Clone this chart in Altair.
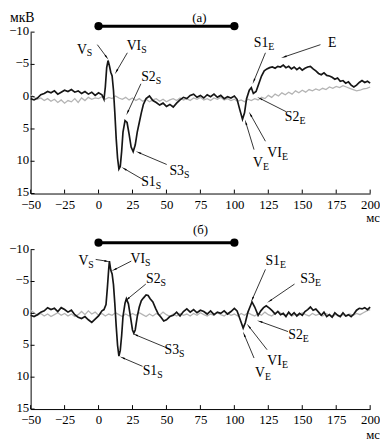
import math
import altair as alt
import pandas as pd

FONT = "Liberation Serif"
W = 345
H_TOP = 164
H_BOT = 162

X_TICKS = [-50, -25, 0, 25, 50, 75, 100, 125, 150, 175, 200]
Y_TICKS = [-10, -5, 0, 5, 10, 15]
BAR_T = [0, 100]

# ---- panel (а) : black (ERP) curve ----
TOP_BLACK_T = [-50, -47.5, -45, -42.5, -40, -37.5, -35, -32.5, -30, -27.5, -25, -22.5, -20, -17.5, -15,
               -12.5, -10, -7.5, -5, -2.5, 0,
               2.5, 4, 5, 6, 7, 8, 9, 10, 11, 12, 13, 14, 15, 16, 17, 18,
               19.5, 21, 22.5, 24, 25.5, 27, 28.5, 30, 31.5, 33, 35,
               37.5, 40, 42.5, 45, 47.5, 50, 52.5, 55, 57.5, 60, 62.5, 65, 67.5, 70, 72.5, 75, 77.5, 80,
               82.5, 85, 87.5, 90, 92.5, 95, 97.5, 100,
               102, 104, 106, 107.5, 109, 111, 112.5, 114, 116,
               118, 120, 122, 124, 126, 128, 130, 132, 134, 136, 138, 140, 142, 144, 146, 148, 150, 152,
               154, 156, 158, 160, 162, 164, 166, 168, 170, 172, 174, 176, 178, 180, 182, 184, 186, 188,
               190, 192, 194, 196, 198, 200]
TOP_BLACK_V = [0.3, 0.5, 0.2, -0.3, -0.5, -0.8, -0.6, -0.9, -0.4, -0.7, -1.0, -0.8, -1.1, -0.7, -0.9,
               -0.5, -0.8, -0.4, -0.7, -0.2, -0.6,
               -0.3, 0.4, -1.5, -4.5, -5.6, -4.8, -3.8, -3.2, -1.0, 2.5, 6.5, 9.5, 11.2, 10.8, 8.5, 5.5,
               3.7, 4.0, 5.8, 7.8, 8.5, 7.5, 5.5, 4.0, 2.5, 1.2, 0.3,
               -0.1, 0.6, 0.9, 1.3, 1.0, 1.5, 1.2, 1.6, 1.0, 0.5, 0.1, 0.3, -0.2, -0.4, 0.1, -0.2, 0.2, -0.3,
               0.0, -0.4, 0.1, -0.2, 0.3, 0.0, 0.2, -0.1,
               0.4, 2.0, 3.5, 2.5, 0.3, -1.0, -1.4, -0.5, -0.8,
               -2.0, -3.2, -4.0, -4.3, -4.5, -4.6, -4.4, -4.7, -4.6, -4.9, -4.5, -4.7, -4.3, -4.6, -4.2,
               -4.5, -4.1, -4.4, -4.6, -4.7, -4.3, -4.0, -3.6, -3.4, -3.7, -3.3, -3.2, -3.0, -2.7, -2.9,
               -2.4, -2.5, -2.1, -2.3, -1.8, -1.5, -1.8, -2.2, -2.5, -2.2, -2.4, -2.1]

# ---- panel (б) : black curve ----
BOT_BLACK_T = [-50, -47.5, -45, -42.5, -40, -37.5, -35, -32.5, -30, -27.5, -25, -22.5, -20, -17.5, -15,
               -12.5, -10, -7.5, -5, -2.5, 0,
               2.5, 4, 5.5, 6.5, 7.5, 8, 9, 10, 11, 12, 13, 14, 15, 16, 17, 18,
               19.5, 20.5, 22, 23.5, 25, 26, 27, 28.5, 30, 31.5, 33, 35, 36.5, 38, 40, 42, 44, 46, 48,
               50, 52.5, 55, 57.5, 60, 62.5, 65, 67.5, 70, 72.5, 75, 77.5, 80, 82.5, 85, 87.5, 90, 92.5,
               95, 97.5, 100,
               102, 104, 106.5, 108, 110, 111.5, 113, 115, 117.5, 119.5, 121.5, 123.5, 126,
               128, 130, 132, 134, 136, 138, 140, 142, 144, 146, 148, 150, 152, 154, 156, 158, 160, 162,
               164, 166, 168, 170, 172, 174, 176, 178, 180, 182, 184, 186, 188, 190, 192, 194, 196, 198, 200]
BOT_BLACK_V = [0.3, 0.5, 0.2, -0.2, -0.4, -0.9, -0.6, -0.8, -0.3, -0.9, -0.6, -0.2, -0.5, 0.2, 0.6,
               0.8, 0.5, 1.0, 1.4, 0.9, 0.4,
               -0.4, -0.6, -1.4, -4.0, -7.0, -8.2, -6.8, -6.2, -4.5, -1.5, 2.0, 5.0, 6.7, 5.8, 3.5, 0.5,
               -1.6, -2.3, -1.5, 0.5, 2.6, 3.1, 2.6, 0.5, -1.0, -2.0, -2.4, -2.9, -2.8, -2.3, -1.8, -0.8,
               0.1, 0.6, 1.2,
               1.0, 0.5, 0.3, -0.2, 0.4, -0.3, -0.7, -0.2, -0.6, -0.1, -0.5, -0.3, 0.1, -0.4, 0.2, -0.2,
               0.0, -0.4, 0.1, -0.3, -0.8,
               -0.4, 0.8, 2.3, 1.5, -0.2, -1.0, -1.8, -1.0, 0.3, -0.4, -0.9, -1.2, -0.8,
               -0.4, 0.1, -0.3, 0.2, 0.0, 0.5, -0.2, 0.3, -0.1, 0.4, 0.0, 0.3, -0.3, -0.6, -1.0, -0.5,
               -0.7, -0.2, 0.3, -0.2, 0.5, 0.2, 0.6, -0.1, 0.3, 0.5, -0.1, 0.4, 0.2, 0.5, 0.1, -0.5,
               -0.8, -0.7, -0.9, -0.6, -1.0]

# ---- gray curves (sampled every 2.5 ms from -50 to 200) ----
GRAY_T = [-50 + 2.5 * i for i in range(101)]
TOP_GRAY_V = [-0.3, 0.1, 0.4, 0.2, 0.6, 0.3, 0.7, 0.4, 0.9, 0.5, 1.0, 0.6, 0.8, 0.3, 0.9, 0.2, 0.6, 0.1, 0.4, 0.2,
              0.3, 0.0, 0.4, 0.1, 0.3, -0.1, 0.2, 0.4, 0.1, 0.5, 0.2, 0.6, 0.3, 0.7, 0.4, 0.8, 0.5, 0.3, 0.7, 0.4,
              0.8, 0.5, 0.3, 0.6, 0.2, 0.5, 0.3, 0.6, 0.2, 0.4, 0.1, 0.5, 0.3, 0.6, 0.2, 0.4, 0.1, 0.5, 0.3, 0.6,
              0.4, 0.7, 0.5, 0.8, 0.4, 0.6, 0.3, 0.5, 0.1, 0.3, -0.2, 0.1, -0.4, -0.1, -0.6, -0.3, -0.7, -0.4,
              -0.9, -0.6,
              -1.0, -0.7, -1.1, -0.9, -1.2, -1.0, -1.3, -1.1, -1.5, -1.3, -1.6, -1.4, -1.7, -1.5, -1.3, -1.1,
              -0.9, -1.0, -1.2, -1.3,
              -1.5]
BOT_GRAY_V = [-0.5, -0.1, 0.3, 0.0, 0.4, 0.1, 0.5, 0.2, -0.1, 0.3, 0.0, 0.4, 0.1, 0.5, 0.2, -0.3, 0.2, -0.4, 0.1, -0.2,
              0.3, 0.0, 0.4, 0.1, 0.3, -0.1, 0.2, 0.5, 0.1, 0.4, 0.0, 0.3, -0.1, 0.2, 0.5, 0.1, 0.4, 0.0, 0.3, -0.2,
              0.2, 0.5, 0.1, 0.4, 0.0, 0.3, 0.1, 0.4, 0.0, 0.3, -0.1, 0.2, 0.4, 0.1, 0.3, -0.1, 0.2, 0.4, 0.0, 0.3,
              0.1, 0.4, 0.0, 0.3, -0.1, 0.2, 0.4, 0.0, 0.3, -0.2, 0.2, 0.4, 0.0, -0.3, 0.1, 0.3, 0.0, 0.4, 0.1, 0.3,
              -0.1, 0.2, 0.4, 0.0, 0.3, 0.1, 0.4, 0.0, 0.3, 0.5, 0.1, 0.4, 0.2, 0.5, 0.1, 0.3, 0.0, 0.2, -0.1, -0.4,
              -0.6]

# ---- annotations (label junction point, arrow start -> arrow tip), data units ----
TOP_LBL_MAIN = ["V", "VI", "S2", "S3", "S1", "S1", "E", "S2", "VI", "V"]
TOP_LBL_SUB = ["S", "S", "S", "S", "S", "E", "", "E", "E", "E"]
TOP_LBL_T = [-8.6, 31.4, 42.1, 62.9, 42.1, 125, 175.2, 147.9, 135, 121.1]
TOP_LBL_V = [-7.3, -7.8, -3.0, 11.5, 13.3, -8.3, -8.3, 3.1, 8.7, 10.3]
TOP_ARR_T1 = [-0.9, 21.2, 31.2, 50.2, 32.4, 122.9, 163.4, 138.4, 122.9, 114.5]
TOP_ARR_V1 = [-8.06, -6.8, -2.0, 10.5, 12.8, -6.8, -8.06, 2.35, 6.9, 8.2]
TOP_ARR_T2 = [5.7, 13.4, 21.6, 30, 19.3, 114.5, 137.1, 119.3, 112.1, 108.6]
TOP_ARR_V2 = [-6.19, -4.0, 2.35, 8.7, 11.2, -2.5, -6.19, 0.32, 2.85, 4.1]

BOT_LBL_MAIN = ["V", "VI", "S2", "S3", "S1", "S1", "S3", "S2", "VI", "V"]
BOT_LBL_SUB = ["S", "S", "S", "S", "S", "E", "E", "E", "E", "E"]
BOT_LBL_T = [-7.5, 34.3, 45.7, 59.3, 43.2, 133.6, 159.3, 150.4, 135, 122.5]
BOT_LBL_V = [-8.2, -8.5, -5.4, 5.7, 9.0, -8.2, -5.4, 3.4, 7.5, 9.3]
BOT_ARR_T1 = [-2.1, 24.1, 34.8, 50.2, 32.4, 122.9, 144.3, 139.5, 124.1, 114.5]
BOT_ARR_V1 = [-8.46, -8.2, -4.6, 5.4, 8.3, -6.9, -4.6, 2.85, 5.7, 7.0]
BOT_ARR_T2 = [5.7, 12.1, 21.6, 27.6, 18.1, 113.4, 126.4, 119.3, 110.9, 107.4]
BOT_ARR_V2 = [-8.2, -6.9, -2.3, 3.4, 7.0, -2.3, -2.0, 1.3, 2.1, 3.4]


def panel(bt, bv, gt, gv, lm, ls, lt, lv, a1t, a1v, a2t, a2v, H, tag, tag_t, tag_y, bar_y, ms_y, unit):
    xs = alt.Scale(domain=[-50, 200], nice=False, zero=False)
    ys = alt.Scale(domain=[-10, 15], reverse=True, nice=False, zero=False)
    xax = alt.Axis(values=X_TICKS, ticks=False, grid=False, title=None, labelFont=FONT,
                   labelFontSize=13, labelColor="black", labelPadding=5, domainColor="black",
                   domainWidth=1, labelFlush=False, labelOverlap=False, minExtent=0)
    yax = alt.Axis(values=Y_TICKS, ticks=False, grid=False, title=None, labelFont=FONT,
                   labelFontSize=13, labelColor="black", labelPadding=2, labelOffset=-1.5,
                   domainColor="black", domainWidth=1, labelOverlap=False, minExtent=0)

    def X(f):
        return alt.X(f, type="quantitative", scale=xs, axis=xax)

    def Y(f):
        return alt.Y(f, type="quantitative", scale=ys, axis=yax)

    gray = alt.Chart(pd.DataFrame({"t": gt, "v": gv})).mark_line(
        color="#b4b4b4", strokeWidth=1.3).encode(x=X("t"), y=Y("v"))
    black = alt.Chart(pd.DataFrame({"t": bt, "v": bv})).mark_line(
        color="#161616", strokeWidth=1.7).encode(x=X("t"), y=Y("v"))

    xt = alt.Chart(pd.DataFrame({"t": X_TICKS})).mark_rule(color="black", strokeWidth=1).encode(
        x=X("t"), y=alt.value(H), y2=alt.value(H - 4))
    yt = alt.Chart(pd.DataFrame({"v": Y_TICKS})).mark_rule(color="black", strokeWidth=1).encode(
        y=Y("v"), x=alt.value(0), x2=alt.value(4))

    sx = W / 250.0
    sy = H / 25.0
    ang = []
    for t1, v1, t2, v2 in zip(a1t, a1v, a2t, a2v):
        dx = (t2 - t1) * sx
        dy = (v2 - v1) * sy
        ang.append(math.degrees(math.atan2(dx, -dy)) % 360)
    adf = pd.DataFrame({"t1": a1t, "v1": a1v, "t2": a2t, "v2": a2v, "ang": ang})
    arr = alt.Chart(adf).mark_rule(color="black", strokeWidth=0.8).encode(
        x=X("t1"), y=Y("v1"), x2="t2:Q", y2="v2:Q")
    heads = alt.Chart(adf).mark_point(shape="wedge", filled=True, size=45, color="black",
                                      opacity=1, strokeWidth=0).encode(
        x=X("t2"), y=Y("v2"), angle=alt.Angle("ang:Q", scale=None))

    ldf = pd.DataFrame({"t": lt, "v": lv, "main": lm, "sub": ls})
    lab = alt.Chart(ldf).mark_text(font=FONT, fontSize=14, align="right", baseline="middle",
                                   color="black").encode(x=X("t"), y=Y("v"), text="main:N")
    sub = alt.Chart(ldf).mark_text(font=FONT, fontSize=10, align="left", baseline="middle",
                                   color="black", dy=4).encode(x=X("t"), y=Y("v"), text="sub:N")

    bdf = pd.DataFrame({"t1": [BAR_T[0]], "t2": [BAR_T[1]]})
    bar = alt.Chart(bdf).mark_rule(color="black", strokeWidth=3).encode(
        x=X("t1"), x2="t2:Q", y=alt.value(bar_y))
    dots = alt.Chart(pd.DataFrame({"t": BAR_T})).mark_circle(color="black", size=70, opacity=1).encode(
        x=X("t"), y=alt.value(bar_y))

    tg = alt.Chart(pd.DataFrame({"t": [tag_t], "txt": [tag]})).mark_text(
        font=FONT, fontSize=13, align="center", baseline="middle", color="black").encode(
        x=X("t"), y=alt.value(tag_y), text="txt:N")
    ms = alt.Chart(pd.DataFrame({"a": [0]})).mark_text(
        text="мс", font=FONT, fontSize=13, align="center", baseline="middle", color="black").encode(
        x=alt.value(W + 3), y=alt.value(H + ms_y))

    layers = [gray, black, xt, yt, arr, heads, lab, sub, bar, dots, tg, ms]
    if unit:
        u = alt.Chart(pd.DataFrame({"a": [0]})).mark_text(
            text="мкВ", font=FONT, fontSize=14, align="left", baseline="middle", color="black").encode(
            x=alt.value(-21), y=alt.value(-14))
        layers.append(u)
    return alt.layer(*layers).properties(width=W, height=H)


top = panel(TOP_BLACK_T, TOP_BLACK_V, GRAY_T, TOP_GRAY_V, TOP_LBL_MAIN, TOP_LBL_SUB, TOP_LBL_T, TOP_LBL_V,
            TOP_ARR_T1, TOP_ARR_V1, TOP_ARR_T2, TOP_ARR_V2, H_TOP, "(а)", 74.3, -14, -6, 25, True)
bot = panel(BOT_BLACK_T, BOT_BLACK_V, GRAY_T, BOT_GRAY_V, BOT_LBL_MAIN, BOT_LBL_SUB, BOT_LBL_T, BOT_LBL_V,
            BOT_ARR_T1, BOT_ARR_V1, BOT_ARR_T2, BOT_ARR_V2, H_BOT, "(б)", 75, -20, -7, 26, False)

chart = alt.vconcat(top, bot, spacing=57, bounds="flush").properties(padding=0).configure_view(
    stroke=None)

chart.save("out.html", embed_options={"renderer": "svg", "actions": False})
